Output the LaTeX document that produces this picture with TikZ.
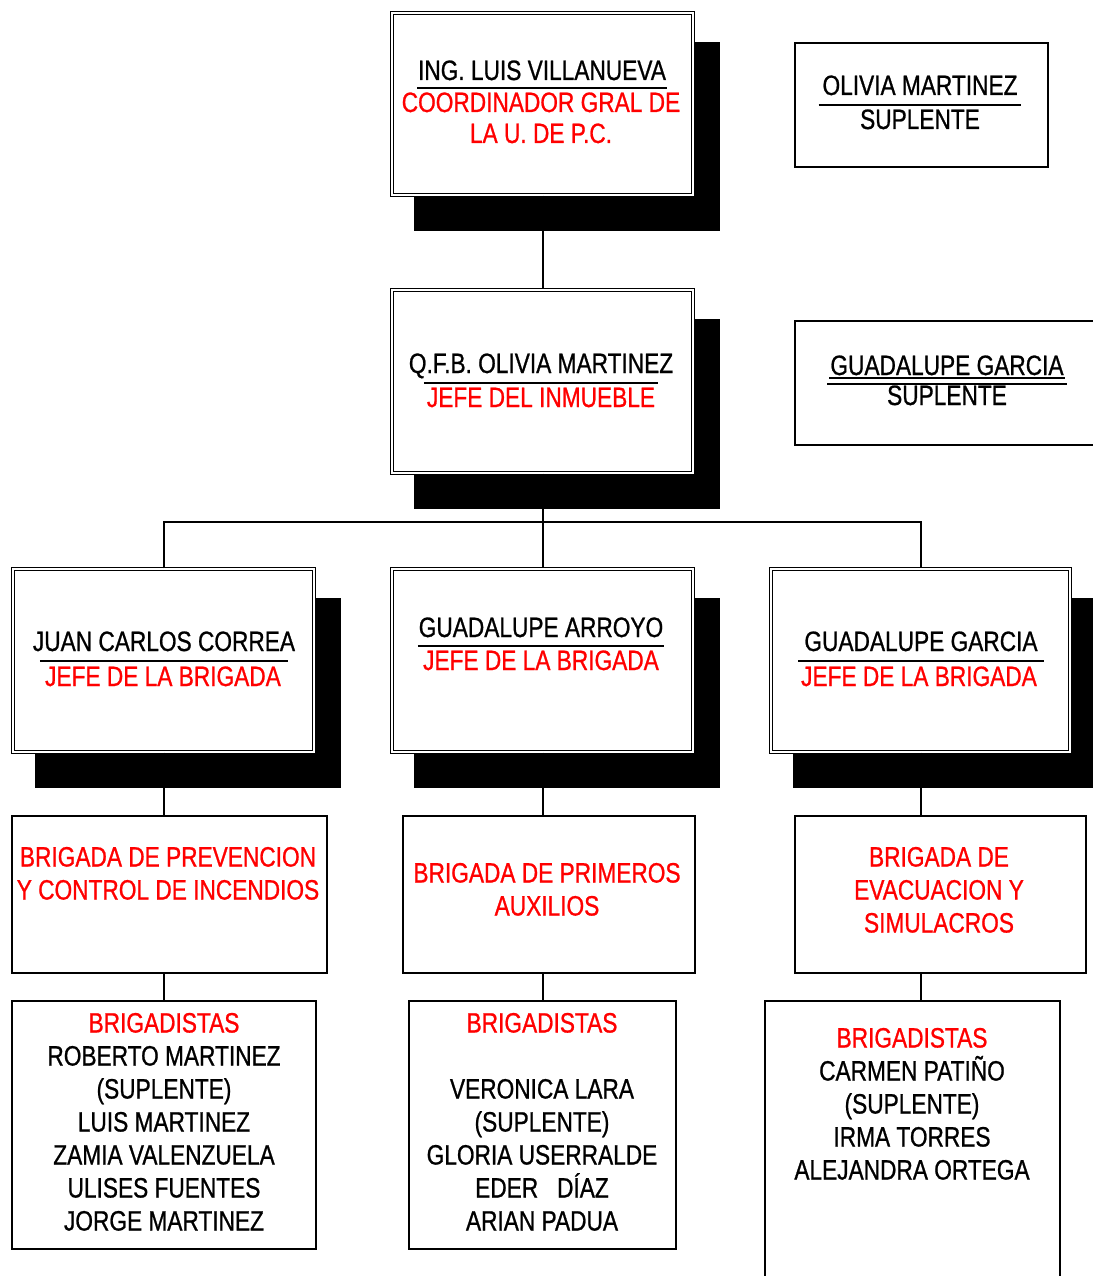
\documentclass[tikz,border=0pt]{standalone}
\usepackage{fontspec}
\newfontfamily\orgfont[FakeStretch=0.81,FakeBold=0.8]{Liberation Sans}
\usetikzlibrary{calc,backgrounds}

\begin{document}
\begin{tikzpicture}[x=1pt,y=1pt,yscale=-1,xscale=1,
		jefebox/.style={draw, double, double distance=2pt, line width=1.3pt, fill=white, inner sep=0pt},
		plainbox/.style={draw, line width=2pt, fill=white, inner sep=0pt},
		nombre/.style={anchor=base, inner sep=0.75pt, font=\orgfont\fontsize{28}{33}\selectfont},
		cargo/.style={nombre, text=red},
		lista/.style={anchor=north, align=center, inner sep=0.75pt, font=\orgfont\fontsize{28}{33}\selectfont},
		raya/.style={line width=2pt},
		enlace/.style={line width=2pt}]
		% Set diagram area to the size of the page
		\useasboundingbox (0,0) rectangle (1092,1276);

		% Draw the double framed boxes of the coordinator and the chiefs
		\node[jefebox, minimum width=301pt, minimum height=182pt] (coord) at (542.5,104) {};
		\node[jefebox, minimum width=301pt, minimum height=183pt] (jefe) at (542.5,381.5) {};
		\node[jefebox, minimum width=301pt, minimum height=183pt] (jbpi) at (163.5,660.5) {};
		\node[jefebox, minimum width=301pt, minimum height=183pt] (jbpa) at (542.5,660.5) {};
		\node[jefebox, minimum width=299pt, minimum height=183pt] (jbes) at (920.5,660.5) {};

		% Draw the boxes of the substitutes
		\node[plainbox, minimum width=253pt, minimum height=124pt] (sup1) at (921.5,105) {};
		\node[plainbox, minimum width=315pt, minimum height=124pt] (sup2) at (952.5,383) {};

		% Draw the boxes of the three brigades
		\node[plainbox, minimum width=315pt, minimum height=157pt] (brpi) at (169.5,894.5) {};
		\node[plainbox, minimum width=292pt, minimum height=157pt] (brpa) at (549,894.5) {};
		\node[plainbox, minimum width=291pt, minimum height=157pt] (bres) at (940.5,894.5) {};

		% Draw the boxes of the brigade members
		\node[plainbox, minimum width=304pt, minimum height=248pt] (lpi) at (164,1125) {};
		\node[plainbox, minimum width=267pt, minimum height=248pt] (lpa) at (542.5,1125) {};
		\node[plainbox, minimum width=295pt, minimum height=299pt] (les) at (912.5,1150.5) {};

		% The black shadows behind the double framed boxes
		\begin{scope}[on background layer]
			\foreach \b in {coord,jefe,jbpi,jbpa,jbes}
				\fill ($(\b.north west)+(23,30)$) rectangle ($(\b.south east)+(26,35)$);
		\end{scope}

		% Connectors between the boxes
		\coordinate (bus) at (541.5,522);
		\draw[enlace] (coord.south) -- (jefe.north);
		\draw[enlace] (jefe.south) -- (jbpa.north);
		\draw[enlace] (jbpi.north) |- (bus) -| (jbes.north);
		\draw[enlace] (jbpi.south) -- (jbpi.south |- brpi.north);
		\draw[enlace] (jbpa.south) -- (jbpa.south |- brpa.north);
		\draw[enlace] (jbes.south) -- (jbes.south |- bres.north);
		\draw[enlace] (jbpi.south |- brpi.south) -- (jbpi.south |- lpi.north);
		\draw[enlace] (jbpa.south |- brpa.south) -- (jbpa.south |- lpa.north);
		\draw[enlace] (jbes.south |- bres.south) -- (jbes.south |- les.north);

		% Names (black, underlined) and posts (red)
		\node[nombre] (ncoord) at (542,80) {ING. LUIS VILLANUEVA};
		\draw[raya] ($(ncoord.base west)+(0,8)$) -- ($(ncoord.base east)+(0,8)$);
		\node[cargo] (rcoord1) at (541,112) {COORDINADOR GRAL DE};
		\node[cargo] (rcoord2) at (541,143) {LA U. DE P.C.};

		\node[nombre] (njefe) at (541,373) {Q.F.B. OLIVIA MARTINEZ};
		\draw[raya] ($(njefe.base west)+(16,10)$) -- ($(njefe.base east)+(-16,10)$);
		\node[cargo] (rjefe) at (541,407) {JEFE DEL INMUEBLE};

		\node[nombre] (nsup1) at (920,95) {OLIVIA MARTINEZ};
		\draw[raya] ($(nsup1.base west)+(-3,10)$) -- ($(nsup1.base east)+(3,10)$);
		\node[nombre] (ssup1) at (920,129) {SUPLENTE};

		\node[nombre] (nsup2) at (947,375) {GUADALUPE GARCIA};
		\draw[raya] ($(nsup2.base west)+(0,3)$) -- ($(nsup2.base east)+(0,3)$);
		\draw[raya] ($(nsup2.base west)+(-2,9)$) -- ($(nsup2.base east)+(2,9)$);
		\node[nombre] (ssup2) at (947,405) {SUPLENTE};

		\node[nombre] (njbpi) at (164,651) {JUAN CARLOS CORREA};
		\draw[raya] ($(njbpi.base west)+(8,10)$) -- ($(njbpi.base east)+(-8,10)$);
		\node[cargo] (rjbpi) at (163,686) {JEFE DE LA BRIGADA};

		\node[nombre] (njbpa) at (541,637) {GUADALUPE ARROYO};
		\draw[raya] ($(njbpa.base west)+(0,9)$) -- ($(njbpa.base east)+(0,9)$);
		\node[cargo] (rjbpa) at (541,670) {JEFE DE LA BRIGADA};

		\node[nombre] (njbes) at (921,651) {GUADALUPE GARCIA};
		\draw[raya] ($(njbes.base west)+(-5,10)$) -- ($(njbes.base east)+(5,10)$);
		\node[cargo] (rjbes) at (919,686) {JEFE DE LA BRIGADA};

		% Brigade names
		\node[lista, text=red] (tbrpi) at (168,846) {BRIGADA DE PREVENCION\\Y CONTROL DE INCENDIOS};
		\node[lista, text=red] (tbrpa) at (547,862) {BRIGADA DE PRIMEROS\\AUXILIOS};
		\node[lista, text=red] (tbres) at (939,846) {BRIGADA DE\\EVACUACION Y\\SIMULACROS};

		% Brigade members
		\node[lista] (tlpi) at (164,1012) {\textcolor{red}{BRIGADISTAS}\\ROBERTO MARTINEZ\\(SUPLENTE)\\LUIS MARTINEZ\\ZAMIA VALENZUELA\\ULISES FUENTES\\JORGE MARTINEZ};
		\node[lista] (tlpa) at (542,1012) {\textcolor{red}{BRIGADISTAS}\\[33pt]VERONICA LARA\\(SUPLENTE)\\GLORIA USERRALDE\\EDER \ \ DÍAZ\\ARIAN PADUA};
		\node[lista] (tles) at (912,1027) {\textcolor{red}{BRIGADISTAS}\\CARMEN PATIÑO\\(SUPLENTE)\\IRMA TORRES\\ALEJANDRA ORTEGA};
\end{tikzpicture}
\end{document}
